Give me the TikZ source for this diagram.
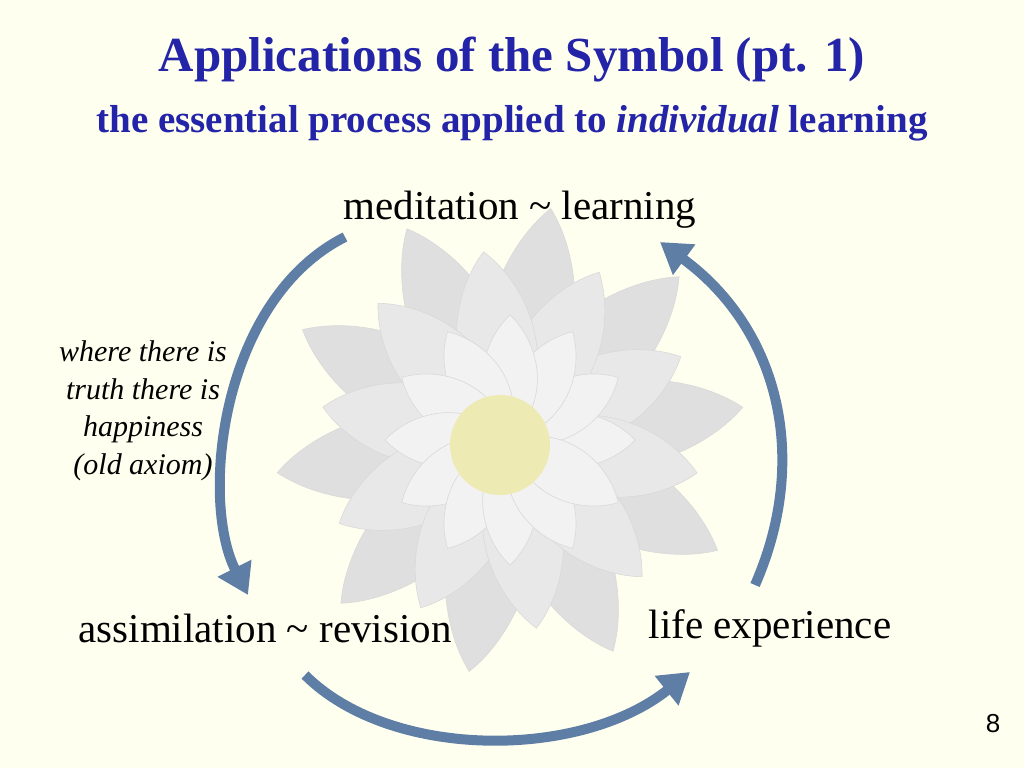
\documentclass[tikz,border=0pt]{standalone}
\usepackage{fontspec}
\setmainfont{Liberation Serif}
\newfontfamily\sansf{Liberation Sans}
\usetikzlibrary{arrows.meta}
\definecolor{slidebg}{HTML}{FFFFF0}
\definecolor{titleblue}{HTML}{2424A8}
\definecolor{cyclearrow}{HTML}{5E7EA6}
\tikzset{
  cyc/.style={line width=10pt,cyclearrow,-{Triangle[length=30pt,width=36pt]}},
  stage/.style={font=\fontsize{41}{43}\selectfont},
  petal/.style={fill=#1,draw=gray!30,line width=0.6pt}
}
\newcommand{\Petal}[4]{% angle, length, width, colour
  \path[petal=#4,rotate around={#1:(510,440)}] (510,440)
    .. controls ++(0.35*#2,#3) and ++(-0.2*#2,0.6*#3) .. ++(#2,0)
    .. controls ++(-0.2*#2,-0.6*#3) and ++(0.35*#2,-#3) .. (510,440);}

\begin{document}
\begin{tikzpicture}[x=1pt,y=-1pt]
  \fill[slidebg] (0,0) rectangle (1024,768);
  \useasboundingbox (0,0) rectangle (1024,768);

  % lotus
  \foreach \a in {0,36,...,324} {\Petal{\a+8}{235}{70}{gray!25}}
  \foreach \a in {18,54,...,342} {\Petal{\a+8}{190}{65}{gray!18}}
  \foreach \a in {0,30,...,330} {\Petal{\a}{125}{45}{red!5!gray!10}}
  \fill[yellow!60!gray!40] (500,445) circle (50);

  \node[font=\fontsize{49}{52}\selectfont\bfseries,text=titleblue] (title) at (512,60) {Applications of the Symbol (pt. 1)};
  \node[font=\fontsize{39}{41}\selectfont\bfseries,text=titleblue] (sub) at (512,123) {the essential process applied to \textit{individual} learning};

  \node[stage] (med) at (520,210) {meditation \textasciitilde{} learning};
  \node[stage] (ass) at (265,628) {assimilation \textasciitilde{} revision};
  \node[stage] (life) at (770,628) {life experience};
  \node[font=\fontsize{30}{37.5}\selectfont\itshape,align=center] (axiom) at (143,411)
    {where there is\\truth there is\\happiness\\(old axiom)};
  \node[font=\sansf\fontsize{26}{28}\selectfont] (page) at (993,724) {8};

  \coordinate (m1) at (345,237);
  \coordinate (m2) at (248,595);
  \coordinate (b1) at (305,675);
  \coordinate (b2) at (690,672);
  \coordinate (r1) at (755,585);
  \coordinate (r2) at (660,242);
  \draw[cyc] (m1) .. controls (220,300) and (200,500) .. (m2);
  \draw[cyc] (b1) .. controls (390,760) and (580,760) .. (b2);
  \draw[cyc] (r1) .. controls (810,460) and (780,330) .. (r2);
\end{tikzpicture}
\end{document}
